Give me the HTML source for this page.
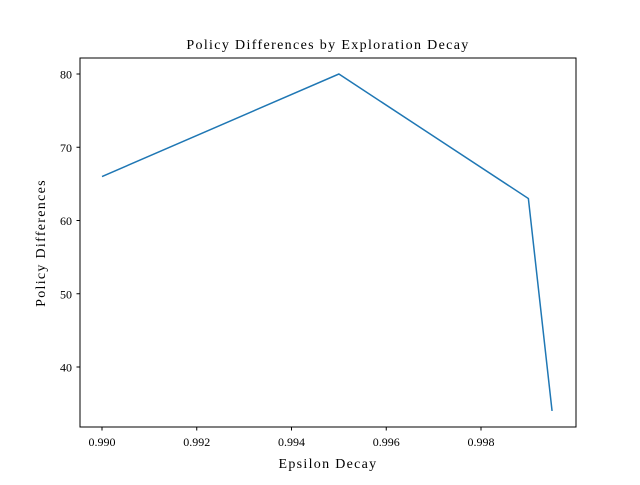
<!DOCTYPE html>
<html><head><meta charset="utf-8"><style>
body{margin:0;background:#fff}
text{font-family:"Liberation Serif",serif;fill:#000}
</style></head><body>
<svg id="chart" width="640" height="480" xmlns="http://www.w3.org/2000/svg">
<rect width="640" height="480" fill="#fff"/>
<text x="328" y="49" font-size="14" letter-spacing="1.35" text-anchor="middle">Policy Differences by Exploration Decay</text>
<g id="xt"></g>
<g id="yt"></g>
<text x="328" y="468" font-size="14" letter-spacing="1.3" text-anchor="middle">Epsilon Decay</text>
<text transform="translate(45,243) rotate(-90)" font-size="14" letter-spacing="1.3" text-anchor="middle">Policy Differences</text>
<path id="line" fill="none" stroke="#1f77b4" stroke-width="1.5"/>
<rect x="80" y="58" width="496" height="369" fill="none" stroke="#000" stroke-width="1"/>
</svg>
<script>
const xValues=[0.990,0.995,0.999,0.9995];
const yValues=[66,80,63,34];
const xTicks=[0.990,0.992,0.994,0.996,0.998];
const yTicks=[40,50,60,70,80];
function X(v){return 102+(v-0.990)/0.002*94.75;}
function Y(v){return 74+(80-v)*7.325;}
const ns="http://www.w3.org/2000/svg";
const xt=document.getElementById('xt'),yt=document.getElementById('yt');
xTicks.forEach(t=>{
 const l=document.createElementNS(ns,'line');
 l.setAttribute('x1',X(t));l.setAttribute('x2',X(t));l.setAttribute('y1',427);l.setAttribute('y2',430.5);l.setAttribute('stroke','#000');
 
 
 xt.appendChild(l);
 const s=document.createElementNS(ns,'text');
 s.setAttribute('x',X(t));s.setAttribute('y',446);s.setAttribute('font-size','12');s.setAttribute('text-anchor','middle');
 s.textContent=t.toFixed(3);
 
 
 xt.appendChild(s);
});
yTicks.forEach(t=>{
 const l=document.createElementNS(ns,'line');
 l.setAttribute('x1',76.5);l.setAttribute('x2',80);l.setAttribute('y1',Y(t));l.setAttribute('y2',Y(t));l.setAttribute('stroke','#000');
 
 
 yt.appendChild(l);
 const s=document.createElementNS(ns,'text');
 s.setAttribute('x',72);s.setAttribute('y',Y(t)+4.5);s.setAttribute('font-size','12');s.setAttribute('text-anchor','end');
 s.textContent=t;
 
 
 yt.appendChild(s);
});
document.getElementById('line').setAttribute('d',xValues.map((v,i)=>(i?'L':'M')+X(v)+' '+Y(yValues[i])).join(' '));
</script>
</body></html>
